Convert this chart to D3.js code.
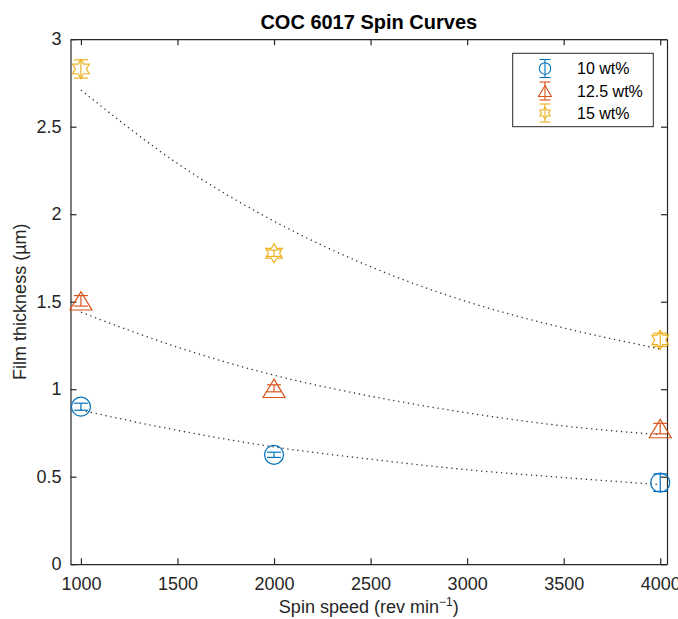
<!DOCTYPE html>
<html>
<head>
<meta charset="utf-8">
<script src="https://cdn.jsdelivr.net/npm/d3@7"></script>
<style>
  body { margin: 0; background: #fff; }
  svg { display: block; font-family: Arial, "Liberation Sans", sans-serif; }
</style>
</head>
<body>
<div id="chart"></div>
<script>
// measured points
const speeds = [1000, 2000, 4000]
const seriesNames = ['10 wt%', '12.5 wt%', '15 wt%']
const thick10 = [0.90, 0.625, 0.466]
const err10 = [0.02, 0.015, 0.05]
const thick125 = [1.505, 1.005, 0.775]
const err125 = [0.03, 0.02, 0.03]
const thick15 = [2.83, 1.777, 1.282]
const err15 = [0.052, 0.018, 0.038]

// fit curves
const fitSpeeds = [1000, 1500, 2000, 2500, 3000, 3500, 4000]
const fit10 = [0.88, 0.765, 0.67, 0.60, 0.54, 0.495, 0.455]
const fit125 = [1.44, 1.24, 1.08, 0.96, 0.865, 0.79, 0.74]
const fit15 = [2.71, 2.29, 1.96, 1.70, 1.50, 1.35, 1.23]

const xTicks = [1000, 1500, 2000, 2500, 3000, 3500, 4000]
const yTicks = [0, 0.5, 1, 1.5, 2, 2.5, 3]

const colors = ['#0072BD', '#D95319', '#EDB120']
const axisColor = '#262626'

const width = 678, height = 619
const box = {left: 70.5, right: 667, top: 39.2, bottom: 564.2}

const svg = d3.select('#chart').append('svg')
    .attr('width', width)
    .attr('height', height)

const x = d3.scaleLinear().domain([946, 4035]).range([box.left, box.right])
const y = d3.scaleLinear().domain([0, 3]).range([box.bottom, box.top])

// axes (box on, ticks pointing in)
const tickLen = 6
const xAxisGroup = svg.append('g')
    .attr('transform', `translate(0, ${box.bottom})`)
    .call(d3.axisBottom(x).tickValues(xTicks).tickSizeInner(-tickLen).tickSizeOuter(0).tickFormat(d3.format('d')))
const xTopGroup = svg.append('g')
    .attr('transform', `translate(0, ${box.top})`)
    .call(d3.axisTop(x).tickValues(xTicks).tickSizeInner(-tickLen).tickSizeOuter(0).tickFormat(''))
const yAxisGroup = svg.append('g')
    .attr('transform', `translate(${box.left}, 0)`)
    .call(d3.axisLeft(y).tickValues(yTicks).tickSizeInner(-tickLen).tickSizeOuter(0).tickPadding(9).tickFormat(d => d))
const yRightGroup = svg.append('g')
    .attr('transform', `translate(${box.right}, 0)`)
    .call(d3.axisRight(y).tickValues(yTicks).tickSizeInner(-tickLen).tickSizeOuter(0).tickFormat(''))

;[xAxisGroup, xTopGroup, yAxisGroup, yRightGroup].forEach(g => {
    g.select('.domain').attr('stroke', axisColor).attr('stroke-width', 1.2)
    g.selectAll('.tick line').attr('stroke', axisColor).attr('stroke-width', 1.2)
    g.selectAll('.tick text').attr('fill', axisColor).attr('font-size', 18)
})
xAxisGroup.selectAll('.tick text').attr('y', 26).attr('dy', 0)

// fit curves
const fitLine = d3.line()
    .x(d => x(d[0]))
    .y(d => y(d[1]))
    .curve(d3.curveMonotoneX)

;[fit10, fit125, fit15].forEach(fit => {
    svg.append('path')
        .datum(fitSpeeds.map((s, i) => [s, fit[i]]))
        .attr('fill', 'none')
        .attr('stroke', '#333')
        .attr('stroke-width', 1.3)
        .attr('stroke-dasharray', '1.3,3.7')
        .attr('d', fitLine)
})

// marker shapes
const circlePath = r => { const p = d3.path(); p.moveTo(r, 0); p.arc(0, 0, r, 0, 2 * Math.PI); return p.toString() }
const trianglePath = (w, h) => `M0,${-h / 2}L${w / 2},${h / 2}L${-w / 2},${h / 2}Z`
const hexagramPath = R => {
    const r = R / Math.sqrt(3)
    let pts = []
    for (let k = 0; k < 12; k++) {
        const a = -Math.PI / 2 + k * Math.PI / 6
        const rad = k % 2 === 0 ? R : r
        pts.push([rad * Math.cos(a), rad * Math.sin(a)])
    }
    return 'M' + pts.map(p => p.join(',')).join('L') + 'Z'
}
const markerPaths = [circlePath(9.5), trianglePath(22, 18.3), hexagramPath(9.6)]
const legendPaths = [circlePath(5.7), trianglePath(13, 11), hexagramPath(6)]

const allSeries = [
    {vals: thick10, errs: err10},
    {vals: thick125, errs: err125},
    {vals: thick15, errs: err15}
]

allSeries.forEach((s, si) => {
    const g = svg.append('g').attr('stroke', colors[si]).attr('fill', 'none').attr('stroke-width', 1.2)
    const pts = speeds.map((sp, i) => ({sp, v: s.vals[i], e: s.errs[i]}))

    // error bars
    const eb = g.selectAll('.eb').data(pts).enter().append('g')
    eb.append('line')
        .attr('x1', d => x(d.sp)).attr('x2', d => x(d.sp))
        .attr('y1', d => y(d.v - d.e)).attr('y2', d => y(d.v + d.e))
    eb.append('line')
        .attr('x1', d => x(d.sp) - 7).attr('x2', d => x(d.sp) + 7)
        .attr('y1', d => y(d.v + d.e)).attr('y2', d => y(d.v + d.e))
    eb.append('line')
        .attr('x1', d => x(d.sp) - 7).attr('x2', d => x(d.sp) + 7)
        .attr('y1', d => y(d.v - d.e)).attr('y2', d => y(d.v - d.e))

    // markers
    g.selectAll('.mk').data(pts).enter().append('path')
        .attr('d', markerPaths[si])
        .attr('transform', d => `translate(${x(d.sp)}, ${y(d.v)})`)
})

// legend
const legend = svg.append('g')
legend.append('rect')
    .attr('x', 512.7).attr('y', 53.3)
    .attr('width', 140.6).attr('height', 73.4)
    .attr('fill', '#fff')
    .attr('stroke', axisColor)
    .attr('stroke-width', 1)
const legendRows = [68.5, 91, 113]
seriesNames.forEach((name, i) => {
    const row = legend.append('g')
        .attr('transform', `translate(545, ${legendRows[i]})`)
    const lg = row.append('g').attr('stroke', colors[i]).attr('fill', 'none').attr('stroke-width', 1.1)
    lg.append('line').attr('x1', 0).attr('x2', 0).attr('y1', -9).attr('y2', 9)
    lg.append('line').attr('x1', -5.5).attr('x2', 5.5).attr('y1', -9).attr('y2', -9)
    lg.append('line').attr('x1', -5.5).attr('x2', 5.5).attr('y1', 9).attr('y2', 9)
    lg.append('path').attr('d', legendPaths[i])
    row.append('text')
        .attr('x', 32)
        .attr('y', 5.5)
        .attr('font-size', 16)
        .attr('fill', '#000')
        .text(name)
})

// title and labels
svg.append('text')
    .attr('x', (box.left + box.right) / 2)
    .attr('y', 29)
    .attr('text-anchor', 'middle')
    .attr('font-size', 20)
    .attr('font-weight', 'bold')
    .attr('fill', '#000')
    .text('COC 6017 Spin Curves')

const xLabel = svg.append('text')
    .attr('x', (box.left + box.right) / 2)
    .attr('y', 613)
    .attr('text-anchor', 'middle')
    .attr('font-size', 18)
    .attr('fill', axisColor)
xLabel.append('tspan').text('Spin speed (rev min')
xLabel.append('tspan').attr('dy', -7).attr('font-size', 12).text('−1')
xLabel.append('tspan').attr('dy', 7).text(')')

svg.append('text')
    .attr('transform', `translate(26, ${(box.top + box.bottom) / 2}) rotate(-90)`)
    .attr('text-anchor', 'middle')
    .attr('font-size', 18)
    .attr('fill', axisColor)
    .text('Film thickness (µm)')
</script>
</body>
</html>
